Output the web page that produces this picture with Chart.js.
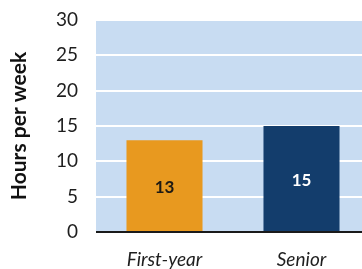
<!DOCTYPE html>
<html><head><meta charset="utf-8">
<script src="https://cdn.jsdelivr.net/npm/chart.js@4"></script>
<style>html,body{margin:0;padding:0;background:#fff;overflow:hidden;width:362px;height:269px}#w{width:370px;height:269px}</style>
</head><body><div id="w"><canvas id="c" width="370" height="269"></canvas></div>
<script>
const categories = ['First-year', 'Senior'];
const hours = [13, 15];
const barColors = ['#e8991f', '#133d6c'];
const labelColors = ['#1e1a14', '#ffffff'];
const yTicks = [0, 5, 10, 15, 20, 25, 30];

const bgPlugin = {
  id: 'bg',
  beforeDraw(chart) {
    const {ctx, chartArea: a} = chart;
    ctx.save();
    ctx.fillStyle = '#c8dcf2';
    ctx.fillRect(a.left, a.top, a.right - a.left, a.bottom - a.top);
    ctx.restore();
  }
};
const labelPlugin = {
  id: 'vals',
  afterDatasetsDraw(chart) {
    const {ctx} = chart;
    const meta = chart.getDatasetMeta(0);
    ctx.save();
    ctx.font = 'bold 17px Lato';
    ctx.textAlign = 'center';
    ctx.textBaseline = 'middle';
    meta.data.forEach((b, i) => {
      ctx.fillStyle = labelColors[i];
      ctx.fillText(String(hours[i]), b.x, (b.y + b.base) / 2 + 2);
    });
    ctx.restore();
  }
};

new Chart(document.getElementById('c'), {
  type: 'bar',
  data: {
    labels: categories,
    datasets: [{
      data: hours,
      backgroundColor: barColors,
      borderWidth: 0,
      barPercentage: 0.555,
      categoryPercentage: 1
    }]
  },
  options: {
    responsive: false,
    animation: false,
    devicePixelRatio: 1,
    layout: {padding: {top: 20, right: 0, left: 0, bottom: 0}},
    plugins: {legend: {display: false}, tooltip: {enabled: false}},
    scales: {
      x: {
        grid: {display: false, drawTicks: false},
        border: {display: false},
        ticks: {color: '#1e1e1e', font: {family: 'Lato', size: 19, style: 'italic'}, padding: 16, maxRotation: 0},
        afterFit(s) { s.height = 37; s.paddingLeft = 0; s.paddingRight = 0; }
      },
      y: {
        min: 0, max: 30,
        afterBuildTicks(s) { s.ticks = yTicks.map(v => ({value: v})); },
        grid: {
          drawTicks: false,
          color: ctx => ctx.tick && ctx.tick.value === 0 ? '#1a1a1a' : '#ffffff',
          lineWidth: 2
        },
        border: {display: false},
        ticks: {color: '#1e1e1e', font: {family: 'Lato', size: 19}, padding: 18},
        title: {display: true, text: 'Hours per week', color: '#111', font: {family: 'Lato', size: 21, weight: 'bold'}, padding: {top: 7, bottom: 0}},
        afterFit(s) { s.width = 96; s.paddingTop = 0; s.paddingBottom = 0; }
      }
    }
  },
  plugins: [bgPlugin, labelPlugin]
});
</script></body></html>
